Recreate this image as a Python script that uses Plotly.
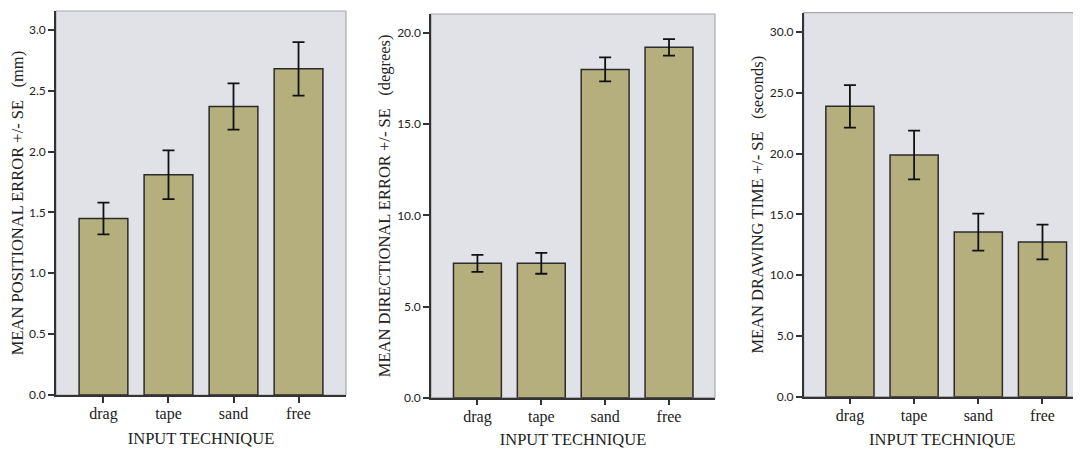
import plotly.graph_objects as go

categories = ["drag", "tape", "sand", "free"]

pos_error = [1.45, 1.81, 2.37, 2.68]
pos_se = [0.13, 0.20, 0.19, 0.22]

dir_error = [7.37, 7.37, 18.01, 19.22]
dir_se = [0.47, 0.57, 0.66, 0.45]

draw_time = [23.88, 19.88, 13.54, 12.72]
draw_se = [1.75, 2.00, 1.52, 1.43]

pos_ticks = [0.0, 0.5, 1.0, 1.5, 2.0, 2.5, 3.0]
dir_ticks = [0.0, 5.0, 10.0, 15.0, 20.0]
time_ticks = [0.0, 5.0, 10.0, 15.0, 20.0, 25.0, 30.0]

GAP = "\u00a0\u00a0\u00a0"
OFF = 8  # page body margin
W, H = 1081 - OFF, 449 - OFF
BAR_FILL = "#b4af7c"
BAR_LINE = "#2b2b2b"
BG = "#e1e2e8"
SERIF = "Liberation Serif"
SANS = "Lato"

panels = [
    dict(vals=pos_error, se=pos_se, ticks=pos_ticks, fmt="%.1f",
         title="MEAN POSITIONAL ERROR +/- SE" + GAP + "(mm)",
         px=(56, 346), py=(11, 395), xr=[-0.73, 3.73], yr=[0, 3.155]),
    dict(vals=dir_error, se=dir_se, ticks=dir_ticks, fmt="%.1f",
         title="MEAN DIRECTIONAL ERROR +/- SE" + GAP + "(degrees)",
         px=(431, 715), py=(14, 397.7), xr=[-0.727, 3.72], yr=[0, 21.05]),
    dict(vals=draw_time, se=draw_se, ticks=time_ticks, fmt="%.1f",
         title="MEAN DRAWING TIME +/- SE" + GAP + "(seconds)",
         px=(803.7, 1081), py=(12.7, 396.7), xr=[-0.72, 3.6], yr=[0, 31.58]),
]

fig = go.Figure()
shapes = []
for i, p in enumerate(panels):
    n = "" if i == 0 else str(i + 1)
    fig.add_trace(go.Bar(
        x=categories, y=p["vals"], width=0.75,
        marker=dict(color=BAR_FILL, line=dict(color=BAR_LINE, width=1.5)),
        error_y=dict(type="data", array=p["se"], visible=True,
                     color="#111111", thickness=1.8, width=6),
        xaxis="x" + n, yaxis="y" + n, showlegend=False,
    ))
    xd = [(p["px"][0] - OFF) / W, min((p["px"][1] - OFF) / W, 1.0)]
    yd = [(H - (p["py"][1] - OFF)) / H, (H - (p["py"][0] - OFF)) / H]
    fig.layout["xaxis" + n] = dict(
        domain=xd, anchor="y" + n, range=p["xr"], type="category",
        showline=True, linecolor="#333333", linewidth=1.5,
        ticks="outside", ticklen=6, tickwidth=1.5, tickcolor="#333333",
        tickfont=dict(family=SERIF, size=16, color="#222222"),
        ticklabelstandoff=-3,
        showgrid=False, zeroline=False, automargin=False,
        title=dict(text="INPUT TECHNIQUE", standoff=10,
                   font=dict(family=SERIF, size=16.5, color="#222222")),
        fixedrange=True,
    )
    fig.layout["yaxis" + n] = dict(
        domain=yd, anchor="x" + n, range=p["yr"],
        tickvals=p["ticks"], ticktext=[p["fmt"] % t for t in p["ticks"]],
        showline=True, linecolor="#333333", linewidth=1.5,
        ticks="outside", ticklen=6, tickwidth=1.5, tickcolor="#333333",
        tickfont=dict(family=SANS, size=12, color="#222222"),
        showgrid=False, zeroline=False, automargin=False,
        title=dict(text=p["title"], standoff=2,
                   font=dict(family=SERIF, size=16.5, color="#222222")),
        fixedrange=True,
    )
    # light grey frame (top / right)
    shapes.append(dict(type="rect", xref="x%s domain" % n, yref="y%s domain" % n,
                       x0=0, x1=1, y0=0, y1=1, layer="below",
                       line=dict(color="#a8a8ac", width=1.2)))

fig.update_layout(
    width=W, height=H,
    margin=dict(l=0, r=0, t=0, b=0),
    paper_bgcolor="white", plot_bgcolor=BG,
    shapes=shapes, bargap=0.25,
)

fig.write_html("out.html")
